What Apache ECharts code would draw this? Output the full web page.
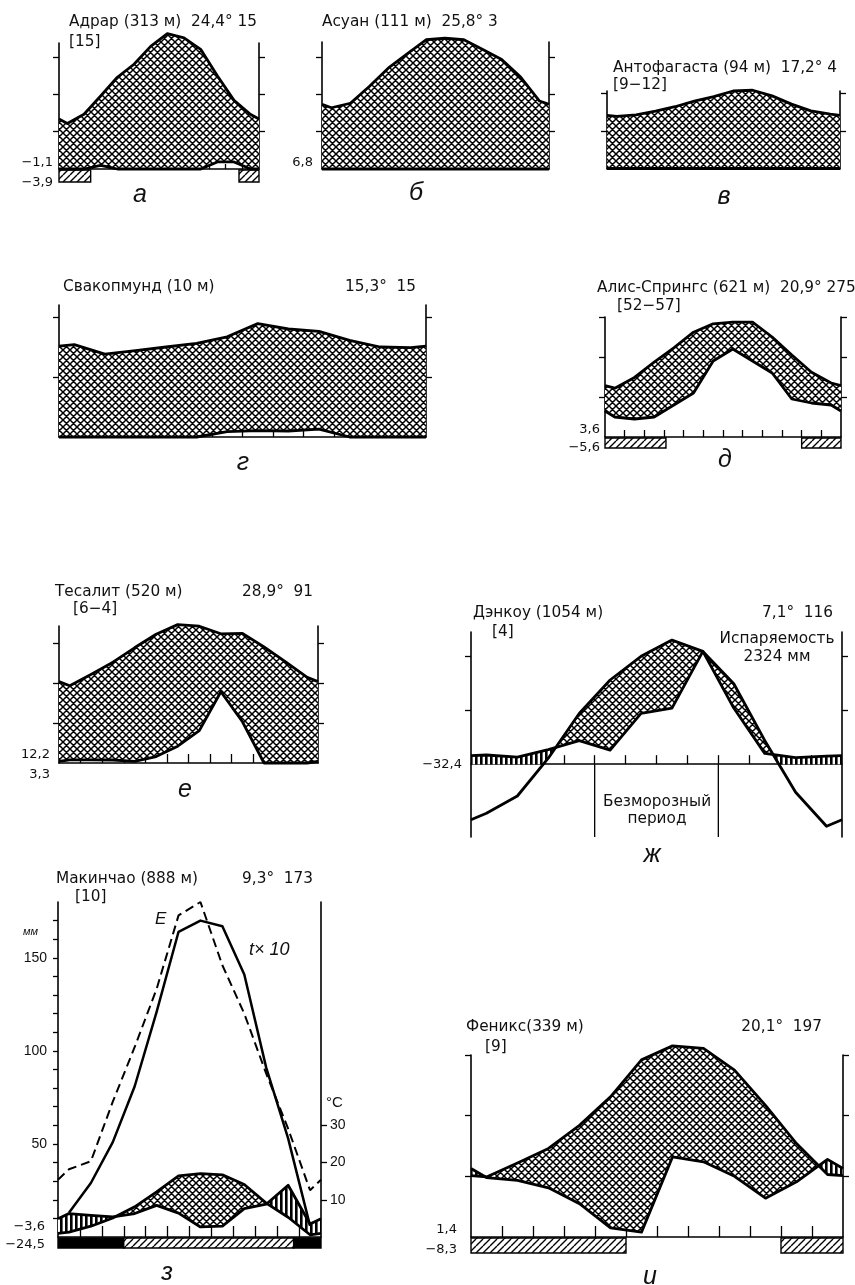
<!DOCTYPE html>
<html>
<head>
<meta charset="utf-8">
<script src="https://cdn.jsdelivr.net/npm/echarts@6/dist/echarts.min.js"></script>
<style>
  html, body { margin: 0; background: #fff; }
  #chart { width: 855px; height: 1285px; }
</style>
</head>
<body>
<div id="chart"></div>
<script>
// значения по месяцам (середина месяца), t в °C, осадки в мм (10° = 20 мм)
var adrarT = [12.2, 14.7, 19.6, 24.6, 28.1, 32.9, 36.3, 35.2, 32.1, 25.0, 18.4, 14.6];
var adrarP = [0, 0, 2, 0, 0, 0, 0, 0, 0, 3.8, 3.8, 0];
var aswanT = [16.4, 17.6, 22.1, 27.0, 30.8, 34.6, 35.0, 34.6, 32.0, 29.3, 24.6, 18.2];
var aswanP = [0, 0, 0, 0, 0, 0, 0, 0, 0, 0, 0, 0];
var antofT = [13.9, 14.3, 15.3, 16.5, 18.0, 19.2, 20.7, 20.9, 19.4, 17.2, 15.4, 14.5];
var antofP = [0, 0, 0, 0, 0, 0, 0, 0, 0, 0, 0, 0];
var swakT = [15.4, 13.8, 14.4, 15.0, 15.6, 16.7, 18.9, 18.0, 17.6, 16.1, 15.0, 14.9];
var swakP = [0, 0, 0, 0, 0, 1.8, 2.1, 2.0, 2.6, 0, 0, 0];
var aliceT = [12.2, 14.9, 18.7, 22.3, 26.2, 28.3, 28.7, 28.7, 25.0, 20.5, 16.2, 13.5];
var aliceP = [10, 9, 10, 16, 22, 38, 44, 38, 32, 19, 17, 16];
var tessT = [19.3, 22.2, 25.2, 28.8, 32.2, 34.6, 34.2, 32.3, 32.4, 29.0, 25.3, 21.4];
var tessP = [1.6, 1.6, 1.5, 0.8, 3.2, 8.4, 16.2, 35.6, 20.6, 0, 0, 0];
var dengT = [-9.1, -5.9, 1.1, 9.4, 15.6, 20.0, 23.0, 20.9, 14.9, 4.4, -5.2, -11.5];
var dengP = [3.4, 2.6, 5.4, 8.7, 5.2, 18.8, 20.8, 41.8, 20.8, 4.0, 2.4, 3.0];
var maqT = [1.3, 2.9, 5.1, 8.1, 12.1, 16.4, 17.0, 16.7, 14.1, 9.1, 5.3, 0.6];
var maqP = [12.6, 11.6, 10.8, 12.6, 17.0, 12.8, 5.4, 5.8, 15.2, 17.6, 27.8, 7.0];
var maqE = [36.4, 40.7, 72.7, 102.1, 133.3, 172.8, 180.0, 146.0, 120.0, 87.8, 58.2, 25.1];
var phxT = [9.9, 12.2, 14.6, 18.4, 23.1, 29.2, 31.5, 31.1, 27.5, 21.7, 15.4, 10.3];
var phxP = [19.6, 18.7, 16.2, 11.0, 3.0, 1.6, 26.4, 24.8, 20.0, 12.8, 18.2, 25.6];

// периоды заморозков (в месяцах от левого края)
var adrarFrost = [[0, 1.9], [10.8, 12]];
var aliceFrost = [[0, 3.1], [10, 12]];
var maqFrostBlack = [[0, 3], [10.75, 12]];
var maqFrost = [[3, 10.75]];
var phxFrost = [[0, 5], [10, 12]];
var dengFrostFree = [4, 8];

var FONT = '"DejaVu Sans", "Liberation Sans", sans-serif';
var AXFONT = '"Liberation Sans", Arial, sans-serif';

// штриховки
function makePattern(w, h, draw) {
  var c = document.createElement('canvas');
  c.width = w; c.height = h;
  var ctx = c.getContext('2d');
  ctx.fillStyle = '#fff';
  ctx.fillRect(0, 0, w, h);
  draw(ctx, w, h);
  return { image: c, repeat: 'repeat' };
}
var crossFill = makePattern(7, 7, function (ctx, s) {
  ctx.strokeStyle = '#000';
  ctx.lineWidth = 1.5;
  ctx.beginPath();
  for (var k = -1; k <= 1; k++) {
    ctx.moveTo(k * s, 0); ctx.lineTo(k * s + s, s);
    ctx.moveTo(k * s, s); ctx.lineTo(k * s + s, 0);
  }
  ctx.stroke();
});
var stripeFill = makePattern(5, 5, function (ctx, w, h) {
  ctx.fillStyle = '#000';
  ctx.fillRect(0, 0, 2.6, h);
});
var hatchFill = makePattern(7, 7, function (ctx, s) {
  ctx.strokeStyle = '#000';
  ctx.lineWidth = 1.4;
  ctx.beginPath();
  for (var k = -1; k <= 1; k++) {
    ctx.moveTo(k * s, s); ctx.lineTo(k * s + s, 0);
  }
  ctx.stroke();
});

// точки на краях — среднее декабря и января
function edged(vals, k) {
  var e = (vals[0] + vals[11]) / 2 * k;
  var out = [[0, e]];
  vals.forEach(function (v, i) { out.push([i + 0.5, v * k]); });
  out.push([12, e]);
  return out;
}

// общий список точек t и p с добавленными пересечениями
function merged(t, p) {
  var pts = [];
  for (var i = 0; i < t.length; i++) {
    pts.push([t[i][0], t[i][1], p[i][1]]);
    if (i < t.length - 1) {
      var x0 = t[i][0], x1 = t[i + 1][0];
      var a0 = t[i][1], a1 = t[i + 1][1], b0 = p[i][1], b1 = p[i + 1][1];
      var d0 = a0 - b0, d1 = a1 - b1, cuts = [];
      if (d0 * d1 < 0) cuts.push(d0 / (d0 - d1));
      if (a0 * a1 < 0) cuts.push(a0 / (a0 - a1));
      cuts.sort(function (u, v) { return u - v; });
      cuts.forEach(function (f) {
        pts.push([x0 + (x1 - x0) * f, a0 + (a1 - a0) * f, b0 + (b1 - b0) * f]);
      });
    }
  }
  return pts;
}

function fillRender(t, p) {
  var pts = merged(t, p);
  return function (params, api) {
    var top = [], arid = [], wet = [];
    pts.forEach(function (q) {
      top.push(api.coord([q[0], Math.max(q[1], q[2])]));
      arid.push(api.coord([q[0], q[2]]));
      wet.push(api.coord([q[0], Math.max(q[1], 0)]));
    });
    return {
      type: 'group',
      children: [
        { type: 'polygon', shape: { points: top.concat(arid.slice().reverse()) }, style: { fill: crossFill } },
        { type: 'polygon', shape: { points: top.concat(wet.slice().reverse()) }, style: { fill: stripeFill } }
      ]
    };
  };
}

function barRender(ranges, fill, h) {
  return function (params, api) {
    var kids = ranges.map(function (r) {
      var a = api.coord([r[0], 0]), b = api.coord([r[1], 0]);
      return {
        type: 'rect',
        shape: { x: a[0], y: a[1] + 1, width: b[0] - a[0], height: h },
        style: { fill: fill, stroke: '#000', lineWidth: 1.4 }
      };
    });
    return { type: 'group', children: kids };
  };
}

var panels = [
  { T: adrarT, P: adrarP, left: 59, right: 259, top: 43, bottom: 169, min: 0, max: 33.8, yTicks: [10, 20, 30], xTick: 5,
    frost: adrarFrost, barH: 12 },
  { T: aswanT, P: aswanP, left: 322, right: 549, top: 42, bottom: 169, min: 0, max: 34.0, yTicks: [10, 20, 30], xTick: 5 },
  { T: antofT, P: antofP, left: 607, right: 840, top: 91, bottom: 168.5, min: 0, max: 20.7, yTicks: [10, 20], xTick: 5 },
  { T: swakT, P: swakP, left: 59, right: 426, top: 305, bottom: 437, min: 0, max: 22, yTicks: [10, 20], xTick: 6 },
  { T: aliceT, P: aliceP, left: 605, right: 841, top: 317, bottom: 437, min: 0, max: 30, yTicks: [10, 20, 30], xTick: 7,
    frost: aliceFrost, barH: 10 },
  { T: tessT, P: tessP, left: 59, right: 318, top: 626, bottom: 763, min: 0, max: 34.25, yTicks: [10, 20, 30], xTick: 9 },
  { T: dengT, P: dengP, left: 471, right: 842, top: 632, bottom: 837, min: -13.5, max: 24.5, yTicks: [10, 20], xTick: 9,
    frostFree: dengFrostFree },
  { T: maqT, P: maqP, left: 58, right: 321, top: 902, bottom: 1237, min: 0, max: 90, yTicks: [10, 20, 30], xTick: 11,
    mm: true },
  { T: phxT, P: phxP, left: 471, right: 843, top: 1055, bottom: 1237, min: 0, max: 30, yTicks: [10, 20, 30], xTick: 11,
    frost: phxFrost, barH: 15 }
];

var monthTicks = [1, 2, 3, 4, 5, 6, 7, 8, 9, 10, 11];
var grids = [], xAxes = [], yAxes = [], series = [];
var axisLine = { show: true, onZero: true, lineStyle: { color: '#000', width: 1.6 } };

panels.forEach(function (p, g) {
  grids.push({ left: p.left, top: p.top, width: p.right - p.left, height: p.bottom - p.top });
  xAxes.push({
    gridIndex: g, type: 'value', min: 0, max: 12,
    axisLine: axisLine,
    axisTick: { show: true, inside: true, length: p.xTick, customValues: monthTicks, lineStyle: { color: '#000', width: 1.3 } },
    axisLabel: { show: false }, splitLine: { show: false }
  });
  var yBase = {
    gridIndex: g, type: 'value',
    axisLine: { show: true, lineStyle: { color: '#000', width: 1.6 } },
    axisTick: { show: true, length: 6, customValues: p.yTicks, lineStyle: { color: '#000', width: 1.3 } },
    axisLabel: { show: false }, splitLine: { show: false }
  };
  var tIdx;
  if (p.mm) {
    // левая ось — мм, правая — °C
    yAxes.push(echarts.util.merge({
      position: 'left', min: p.min * 2, max: p.max * 2,
      axisTick: { length: 5, customValues: [10, 20, 30, 40, 50, 60, 70, 80, 90, 100, 110, 120, 130, 140, 150, 160, 170] },
      axisLabel: { show: true, customValues: [50, 100, 150], color: '#111', fontSize: 14, fontFamily: AXFONT, margin: 11 }
    }, yBase, false));
    yAxes.push(echarts.util.merge({
      position: 'right', min: p.min, max: p.max,
      axisLabel: { show: true, customValues: [10, 20, 30], color: '#111', fontSize: 14, fontFamily: AXFONT, margin: 9 }
    }, yBase, false));
    tIdx = yAxes.length - 1;
  } else {
    yAxes.push(echarts.util.merge({ position: 'left', min: p.min, max: p.max }, yBase, false));
    tIdx = yAxes.length - 1;
    yAxes.push(echarts.util.merge({ position: 'right', min: p.min, max: p.max }, yBase, false));
  }

  var tData = edged(p.T, 1), pData = edged(p.P, 0.5);
  series.push({
    type: 'custom', coordinateSystem: 'cartesian2d', xAxisIndex: g, yAxisIndex: tIdx,
    data: [[0, 0]], renderItem: fillRender(tData, pData), clip: false, silent: true, z: 3
  });
  if (p.frost) {
    series.push({
      type: 'custom', coordinateSystem: 'cartesian2d', xAxisIndex: g, yAxisIndex: tIdx,
      data: [[0, 0]], renderItem: barRender(p.frost, hatchFill, p.barH), clip: false, silent: true, z: 3
    });
  }
  if (p.frostFree) {
    series.push({
      type: 'custom', coordinateSystem: 'cartesian2d', xAxisIndex: g, yAxisIndex: tIdx,
      data: [[0, 0]], clip: false, silent: true, z: 3,
      renderItem: function (params, api) {
        return {
          type: 'group',
          children: p.frostFree.map(function (m) {
            var a = api.coord([m, 0]), b = api.coord([m, p.min]);
            return { type: 'line', shape: { x1: a[0], y1: a[1], x2: b[0], y2: b[1] }, style: { stroke: '#000', lineWidth: 1.3 } };
          })
        };
      }
    });
  }
  [tData, pData].forEach(function (d) {
    series.push({
      type: 'line', xAxisIndex: g, yAxisIndex: tIdx, data: d, symbol: 'none', clip: false, silent: true, z: 4,
      lineStyle: { color: '#000', width: 2.8, join: 'round' }
    });
  });
  if (p.mm) {
    series.push({
      type: 'custom', coordinateSystem: 'cartesian2d', xAxisIndex: g, yAxisIndex: tIdx,
      data: [[0, 0]], renderItem: barRender(maqFrostBlack, '#000', 10), clip: false, silent: true, z: 3
    });
    series.push({
      type: 'custom', coordinateSystem: 'cartesian2d', xAxisIndex: g, yAxisIndex: tIdx,
      data: [[0, 0]], renderItem: barRender(maqFrost, hatchFill, 10), clip: false, silent: true, z: 3
    });
    series.push({
      type: 'line', xAxisIndex: g, yAxisIndex: tIdx - 1, symbol: 'none', clip: false, silent: true, z: 4,
      data: maqT.map(function (v, i) { return [i + 0.5, v * 10]; }),
      lineStyle: { color: '#000', width: 2.5, join: 'round' }
    });
    series.push({
      type: 'line', xAxisIndex: g, yAxisIndex: tIdx - 1, symbol: 'none', clip: false, silent: true, z: 4,
      data: edged(maqE, 1),
      lineStyle: { color: '#000', width: 2, type: [9, 5] }
    });
  }
});

function txt(s, x, y, align, font) {
  return {
    type: 'text', x: x, y: y, silent: true, z: 10,
    style: {
      text: s, fill: '#111', font: font || ('15.3px ' + FONT),
      align: align || 'left', textAlign: align || 'left',
      verticalAlign: 'middle', textVerticalAlign: 'middle'
    }
  };
}
var small = '13px ' + FONT;
var ital = 'italic 25px ' + AXFONT;

var texts = [
  txt('Адрар (313 м)  24,4° 15', 69, 22), txt('[15]', 69, 42),
  txt('−1,1', 53, 163, 'right', small), txt('−3,9', 53, 183, 'right', small),
  txt('а', 140, 195, 'center', ital),

  txt('Асуан (111 м)  25,8° 3', 322, 22),
  txt('6,8', 313, 163, 'right', small),
  txt('б', 416, 193, 'center', ital),

  txt('Антофагаста (94 м)  17,2° 4', 613, 68), txt('[9−12]', 613, 85),
  txt('в', 724, 197, 'center', ital),

  txt('Свакопмунд (10 м)', 63, 287), txt('15,3°  15', 416, 287, 'right'),
  txt('г', 243, 463, 'center', ital),

  txt('Алис-Спрингс (621 м)  20,9° 275', 597, 288), txt('[52−57]', 617, 306),
  txt('3,6', 600, 430, 'right', small), txt('−5,6', 600, 448, 'right', small),
  txt('д', 725, 460, 'center', ital),

  txt('Тесалит (520 м)', 55, 592), txt('[6−4]', 73, 609), txt('28,9°  91', 313, 592, 'right'),
  txt('12,2', 50, 755, 'right', small), txt('3,3', 50, 775, 'right', small),
  txt('е', 185, 790, 'center', ital),

  txt('Дэнкоу (1054 м)', 473, 613), txt('[4]', 492, 632), txt('7,1°  116', 833, 613, 'right'),
  txt('Испаряемость', 777, 639, 'center'), txt('2324 мм', 777, 657, 'center'),
  txt('−32,4', 462, 765, 'right', small),
  txt('Безморозный', 657, 802, 'center'), txt('период', 657, 819, 'center'),
  txt('ж', 652, 855, 'center', ital),

  txt('Макинчао (888 м)', 56, 879), txt('[10]', 75, 897), txt('9,3°  173', 313, 879, 'right'),
  txt('мм', 23, 932, 'left', 'italic 11px ' + AXFONT),
  txt('°C', 326, 1103, 'left', '15px ' + AXFONT),
  txt('E', 155, 919, 'left', 'italic 17px ' + AXFONT),
  txt('t× 10', 249, 950, 'left', 'italic 18px ' + AXFONT),
  txt('−3,6', 45, 1227, 'right', small), txt('−24,5', 45, 1245, 'right', small),
  txt('з', 167, 1273, 'center', ital),

  txt('Феникс(339 м)', 466, 1027), txt('[9]', 485, 1047), txt('20,1°  197', 822, 1027, 'right'),
  txt('1,4', 457, 1230, 'right', small), txt('−8,3', 457, 1250, 'right', small),
  txt('и', 650, 1277, 'center', ital)
];

var chart = echarts.init(document.getElementById('chart'), null, { renderer: 'canvas' });
chart.setOption({
  animation: false,
  backgroundColor: '#fff',
  grid: grids,
  xAxis: xAxes,
  yAxis: yAxes,
  series: series,
  graphic: { elements: texts }
});
</script>
</body>
</html>
